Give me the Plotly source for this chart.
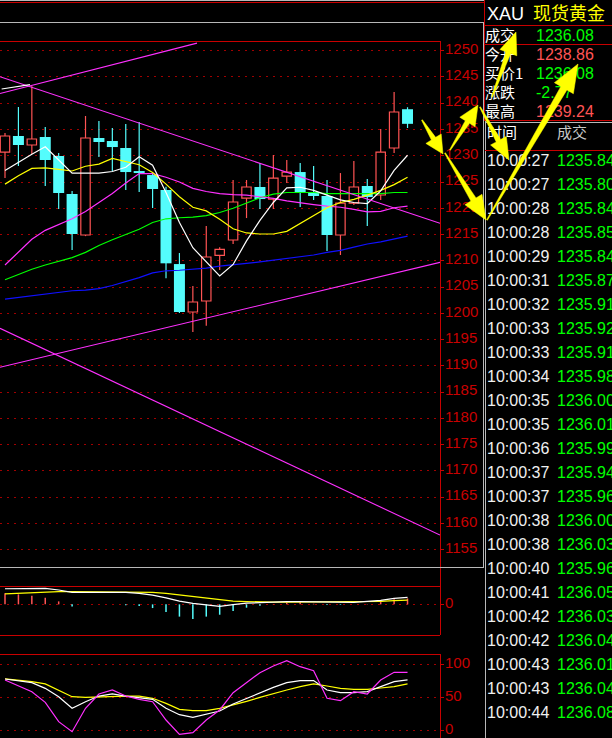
import math
import plotly.graph_objects as go

W, H = 612, 738

# ---------------- candle data (index 0..30) ----------------
candle_open = [1230.71, 1233.76, 1232.05, 1233.57, 1229.95, 1222.72, 1214.91, 1233.38, 1232.81, 1231.48,
               1227.09, 1226.33, 1223.48, 1209.38, 1200.25, 1202.35, 1211.04, 1213.96, 1221.95, 1224.05,
               1221.76, 1226.14, 1226.90, 1223.10, 1222.34, 1214.91, 1221.00, 1224.24, 1222.53, 1231.48, 1238.86]
candle_high = [1234.33, 1239.28, 1243.28, 1235.47, 1230.52, 1223.29, 1237.57, 1236.61, 1235.28, 1236.04,
               1236.42, 1226.90, 1224.10, 1211.48, 1205.20, 1216.62, 1212.57, 1225.39, 1225.39, 1228.62,
               1230.14, 1229.19, 1228.62, 1228.05, 1225.39, 1226.71, 1229.01, 1225.57, 1235.09, 1242.14, 1239.24]
candle_low = [1225.76, 1228.05, 1230.33, 1224.24, 1219.86, 1212.05, 1214.70, 1229.76, 1227.09, 1223.48,
              1223.10, 1220.05, 1206.67, 1200.06, 1196.44, 1197.64, 1208.24, 1213.20, 1218.14, 1219.86,
              1219.86, 1224.81, 1220.24, 1221.57, 1211.86, 1211.10, 1220.62, 1216.62, 1221.57, 1230.52, 1235.28]
candle_close = [1233.76, 1232.05, 1233.19, 1229.19, 1222.91, 1215.10, 1233.38, 1232.62, 1231.66, 1226.90,
                1226.71, 1223.67, 1209.52, 1200.25, 1202.16, 1210.72, 1212.19, 1221.20, 1224.05, 1221.76,
                1225.76, 1226.90, 1223.10, 1222.34, 1214.91, 1221.00, 1224.05, 1222.14, 1230.71, 1238.33, 1236.08]

# moving averages
ma5 = [1227.2, 1228.8, 1230.3, 1231.7, 1229.1, 1226.7, 1226.7, 1226.7, 1227.0, 1227.8, 1229.8, 1228.2, 1223.0,
       1217.3, 1212.5, 1209.9, 1207.1, 1209.3, 1213.8, 1217.7, 1221.1, 1223.9, 1224.0, 1223.4, 1222.5, 1221.6,
       1221.1, 1220.9, 1223.3, 1227.2, 1230.1]
ma10 = [1224.6, 1226.2, 1227.6, 1227.7, 1227.4, 1227.1, 1228.0, 1228.4, 1229.5, 1228.9, 1228.3, 1226.8, 1224.6,
        1222.2, 1220.2, 1219.5, 1217.9, 1216.1, 1215.3, 1215.1, 1215.1, 1215.6, 1217.1, 1218.7, 1220.1, 1221.1,
        1221.7, 1222.5, 1223.4, 1224.5, 1225.9]
ma20 = [1209.2, 1211.7, 1214.1, 1215.8, 1216.9, 1218.0, 1219.4, 1221.1, 1222.8, 1224.8, 1226.6, 1226.6, 1225.9,
        1225.0, 1223.8, 1223.2, 1222.8, 1222.6, 1222.5, 1222.2, 1221.9, 1221.4, 1221.0, 1220.7, 1220.4, 1220.2,
        1219.8, 1219.3, 1219.4, 1220.1, 1220.4]
ma30 = [1206.4, 1207.4, 1208.4, 1209.2, 1209.9, 1210.6, 1211.6, 1212.9, 1214.0, 1215.0, 1216.0, 1217.3, 1218.0,
        1218.2, 1218.3, 1218.6, 1219.2, 1220.0, 1221.0, 1222.0, 1222.7, 1223.0, 1223.0, 1223.0, 1222.8, 1222.8,
        1222.7, 1222.7, 1222.8, 1223.0, 1223.0]
ma60 = [1202.7, 1203.0, 1203.4, 1203.7, 1204.0, 1204.3, 1204.4, 1204.7, 1205.3, 1206.0, 1206.8, 1207.7, 1208.1,
        1208.2, 1208.4, 1208.6, 1209.0, 1209.2, 1209.5, 1209.8, 1210.1, 1210.4, 1210.8, 1211.1, 1211.6, 1212.0,
        1212.6, 1213.2, 1213.6, 1214.1, 1214.7]

# drawn trend lines (start index, start price, end index, end price)
trend_i0 = [-0.373, -0.373, -0.373, -0.373]
trend_p0 = [1241.85, 1245.05, 1189.72, 1197.14]
trend_i1 = [14.31, 32.42, 32.42, 32.42]
trend_p1 = [1251.45, 1217.14, 1209.71, 1157.79]
white_seg_i = [-0.25, 1.86]
white_seg_p = [1242.71, 1243.53]

# MACD
macd_dif = [2.55, 2.6, 2.6, 2.6, 2.35, 1.96, 1.96, 1.96, 1.96, 1.96, 1.8, 1.5, 1.06, 0.54, 0.16, -0.14, -0.33,
            -0.05, 0.22, 0.27, 0.38, 0.44, 0.44, 0.44, 0.44, 0.33, 0.33, 0.49, 0.65, 0.98, 1.14]
macd_dea = [1.71, 1.8, 2.01, 2.07, 2.07, 2.07, 2.07, 2.07, 2.07, 2.07, 2.04, 1.96, 1.8, 1.55, 1.31, 1.09, 0.82,
            0.54, 0.46, 0.38, 0.38, 0.38, 0.38, 0.38, 0.38, 0.38, 0.38, 0.38, 0.49, 0.6, 0.71]
macd_hist = [1.8, 1.63, 1.41, 1.09, 0.49, -0.33, 0, 0, 0, -0.16, -0.27, -0.6, -1.25, -2.0, -2.4, -2.0, -1.69,
             -1.09, -0.54, -0.22, 0.05, 0.3, 0.38, 0.1, -0.1, -0.1, 0, 0.05, 0.44, 0.82, 0.98]

# KDJ
kdj_k = [77.9, 74.9, 72.4, 63.8, 51.2, 33.7, 43.7, 52.2, 55.3, 52.2, 50.2, 47.2, 33.7, 24.1, 20.1, 25.1, 29.6,
         40.2, 48.8, 57.3, 65.3, 72.4, 75.4, 75.4, 61.3, 57.3, 57.3, 58.8, 66.3, 73.9, 76.4]
kdj_d = [77.9, 76.4, 73.9, 70.4, 60.3, 51.2, 50.2, 51.2, 52.2, 52.2, 52.2, 48.8, 41.2, 32.2, 30.2, 30.2, 33.7,
         38.7, 44.2, 50.2, 56.3, 61.3, 66.3, 70.4, 67.3, 63.8, 62.3, 62.3, 64.3, 66.3, 70.4]
kdj_j = [76.4, 67.3, 58.8, 42.7, 13.6, -1.5, 33.7, 55.3, 61.3, 52.2, 47.2, 43.7, 16.1, -5.5, -3.0, 16.1, 31.2,
         57.3, 72.4, 87.4, 97.4, 105.5, 96.4, 90.4, 48.8, 45.2, 58.8, 55.3, 76.4, 87.9, 87.9]

price_ticks = list(range(1155, 1251, 5))

# quote panel
symbol = "XAU"
symbol_name = "现货黄金"
quote_labels = ["成交", "今开", "买价1", "涨跌", "最高"]
quote_values = ["1236.08", "1238.86", "1236.08", "-2.77", "1239.24"]
quote_up = [False, True, False, False, True]
trade_times = ["10:00:27", "10:00:27", "10:00:28", "10:00:28", "10:00:29", "10:00:31", "10:00:32", "10:00:33",
               "10:00:33", "10:00:34", "10:00:35", "10:00:35", "10:00:36", "10:00:37", "10:00:37", "10:00:38",
               "10:00:38", "10:00:40", "10:00:41", "10:00:42", "10:00:42", "10:00:43", "10:00:43", "10:00:44"]
trade_prices = ["1235.84", "1235.80", "1235.84", "1235.85", "1235.84", "1235.87", "1235.91", "1235.92",
                "1235.91", "1235.98", "1236.00", "1236.01", "1235.99", "1235.94", "1235.96", "1236.00",
                "1236.03", "1235.96", "1236.05", "1236.03", "1236.04", "1236.01", "1236.04", "1236.08"]

# ---------------- styles ----------------
RED = "#ff5454"
CYAN = "#54fcfc"
AXRED = "#c80000"
GRID = "#a00000"
BORDER = "#c80000"
GRAY = "#b8b8b8"
MAGENTA = "#ff30ff"
NUMFONT = "Liberation Sans, Arial, sans-serif"
CJKFONT = "Noto Sans CJK SC, sans-serif"
XR = [-0.3727, 32.42]

n = len(candle_open)
idx = list(range(n))
up = [c >= o for o, c in zip(candle_open, candle_close)]

fig = go.Figure()

# ---------- candles ----------
for flag, fill, lc, lw, wdt in ((True, "black", RED, 1.2, 0.70), (False, CYAN, CYAN, 0, 0.82)):
    xs = [i for i in idx if up[i] == flag]
    base = [min(candle_open[i], candle_close[i]) for i in xs]
    hgt = [max(abs(candle_close[i] - candle_open[i]), 0.2) for i in xs]
    wx, wy = [], []
    for i in xs:
        top = max(candle_open[i], candle_close[i])
        bot = min(candle_open[i], candle_close[i])
        if flag:
            wx += [i, i, None, i, i, None]
            wy += [candle_high[i], top, None, bot, candle_low[i], None]
        else:
            wx += [i, i, None]
            wy += [candle_high[i], candle_low[i], None]
    fig.add_trace(go.Scatter(x=wx, y=wy, mode="lines", line=dict(color=lc if flag else CYAN, width=1.2),
                             xaxis="x", yaxis="y", hoverinfo="skip"))
    fig.add_trace(go.Bar(x=xs, y=hgt, base=base, width=wdt,
                         marker=dict(color=fill, line=dict(color=lc, width=lw)),
                         xaxis="x", yaxis="y", hoverinfo="skip"))

# ---------- moving averages ----------
for vals, col in ((ma60, "#1010ff"), (ma30, "#00ff00"), (ma20, MAGENTA), (ma10, "#ffff00"), (ma5, "#ffffff")):
    fig.add_trace(go.Scatter(x=idx, y=vals, mode="lines", line=dict(color=col, width=1.2),
                             xaxis="x", yaxis="y", hoverinfo="skip"))

# ---------- trend lines ----------
for a0, b0, a1, b1 in zip(trend_i0, trend_p0, trend_i1, trend_p1):
    fig.add_trace(go.Scatter(x=[a0, a1], y=[b0, b1], mode="lines", line=dict(color=MAGENTA, width=1.1),
                             xaxis="x", yaxis="y", hoverinfo="skip"))
fig.add_trace(go.Scatter(x=white_seg_i, y=white_seg_p, mode="lines", line=dict(color="#ffffff", width=1.2),
                         xaxis="x", yaxis="y", hoverinfo="skip"))

# ---------- MACD ----------
for positive, col in ((True, RED), (False, CYAN)):
    hx, hy = [], []
    for i, v in enumerate(macd_hist):
        if v != 0 and (v > 0) == positive:
            hx += [i, i, None]
            hy += [0, v, None]
    fig.add_trace(go.Scatter(x=hx, y=hy, mode="lines", line=dict(color=col, width=1.5),
                             xaxis="x2", yaxis="y2", hoverinfo="skip"))
fig.add_trace(go.Scatter(x=idx, y=macd_dea, mode="lines", line=dict(color="#ffff00", width=1.2),
                         xaxis="x2", yaxis="y2", hoverinfo="skip"))
fig.add_trace(go.Scatter(x=idx, y=macd_dif, mode="lines", line=dict(color="#ffffff", width=1.2),
                         xaxis="x2", yaxis="y2", hoverinfo="skip"))

# ---------- KDJ ----------
for vals, col in ((kdj_d, "#ffff00"), (kdj_k, "#ffffff"), (kdj_j, MAGENTA)):
    fig.add_trace(go.Scatter(x=idx, y=vals, mode="lines", line=dict(color=col, width=1.2),
                             xaxis="x3", yaxis="y3", hoverinfo="skip"))


# ---------- quote panel text (pixel overlay) ----------
def txt(xs, ys, texts, color, size, family):
    fig.add_trace(go.Scatter(x=xs, y=ys, text=texts, mode="text", textposition="middle right",
                             textfont=dict(color=color, size=size, family=family),
                             xaxis="x4", yaxis="y4", hoverinfo="skip"))


txt([487], [15], [symbol], "#ffffff", 18, NUMFONT)
txt([533], [15], [symbol_name], "#ffff00", 18, CJKFONT)
qy = [37 + 19 * k for k in range(len(quote_labels))]
txt([485] * len(quote_labels), qy, quote_labels, "#ffffff", 15, CJKFONT)
for yy, v, u in zip(qy, quote_values, quote_up):
    txt([536], [yy], [v], RED if u else "#00ff00", 16, NUMFONT)
txt([487], [134], ["时间"], "#ffffff", 15, CJKFONT)
txt([557], [134], ["成交"], "#c8c8c8", 15, CJKFONT)
ty = [162 + 24 * k for k in range(len(trade_times))]
txt([487] * len(trade_times), ty, trade_times, "#f0f0f0", 16, NUMFONT)
txt([557] * len(trade_prices), ty, trade_prices, "#00ff00", 16, NUMFONT)


# ---------- yellow hand-drawn arrows ----------
def arrow(x0, y0, x1, y1, w0=1.0, w1=7.0, hw=20.0, hl=22.0):
    dx, dy = x1 - x0, y1 - y0
    L = math.hypot(dx, dy)
    ux, uy = dx / L, dy / L
    nx, ny = -uy, ux
    bx, by = x1 - ux * hl, y1 - uy * hl
    pts = [(x0 + nx * w0 / 2, y0 + ny * w0 / 2), (bx + nx * w1 / 2, by + ny * w1 / 2),
           (bx + nx * hw / 2, by + ny * hw / 2), (x1, y1), (bx - nx * hw / 2, by - ny * hw / 2),
           (bx - nx * w1 / 2, by - ny * w1 / 2), (x0 - nx * w0 / 2, y0 - ny * w0 / 2)]
    pts.append(pts[0])
    fig.add_trace(go.Scatter(x=[p[0] for p in pts], y=[p[1] for p in pts], mode="lines", fill="toself",
                             fillcolor="#ffff00", line=dict(color="#ffff00", width=0.5),
                             xaxis="x4", yaxis="y4", hoverinfo="skip"))


arrow(422, 120, 443, 154, hw=18, hl=18, w1=5)
arrow(450, 150, 478, 105, hw=18, hl=20, w1=5)
arrow(445, 153, 486, 220, hw=20, hl=24, w1=6)
arrow(480, 107, 509, 160, hw=18, hl=22, w1=5)
arrow(487, 220, 578, 64, hw=22, hl=28, w1=7)
arrow(492, 97, 516, 32, hw=18, hl=22, w1=5)


# ---------- border shapes ----------
def px(x):
    return x / W


def py(y):
    return 1 - y / H


shapes = []


def hline(y, x0, x1, color, width=1):
    shapes.append(dict(type="line", xref="paper", yref="paper", x0=px(x0), x1=px(x1), y0=py(y), y1=py(y),
                       line=dict(color=color, width=width), layer="below"))


def vline(x, y0, y1, color, width=1):
    shapes.append(dict(type="line", xref="paper", yref="paper", x0=px(x), x1=px(x), y0=py(y0), y1=py(y1),
                       line=dict(color=color, width=width), layer="below"))


hline(0.5, 0, 484, GRAY)
hline(2.5, 0, 484, BORDER)
hline(22.5, 0, 484, GRAY)
hline(41.5, 0, 440, BORDER)
vline(440.5, 41, 635, BORDER)
hline(567.5, 0, 484, GRAY)
vline(483.5, 22, 567, GRAY)
hline(586.5, 0, 440, BORDER)
hline(635.5, 0, 440, BORDER)
hline(654.5, 0, 440, BORDER)
vline(440.5, 654, 738, BORDER)
vline(484.5, 0, 121, BORDER)
vline(485.5, 121, 738, GRAY)
hline(25.5, 485, 612, BORDER)
hline(44.5, 485, 612, BORDER)
hline(120.5, 485, 612, BORDER)
hline(122.5, 485, 612, GRAY)
hline(150.5, 485, 612, BORDER)

# ---------- layout ----------
xdom = [0, 440 / W]
common_y = dict(side="right", showgrid=True, gridcolor=GRID, gridwidth=1, griddash="2px,5px",
                zeroline=False, showline=False, ticks="outside", ticklen=3, tickcolor=AXRED,
                tickfont=dict(color=AXRED, size=15, family="Liberation Sans Narrow, Arial Narrow, Liberation Sans, Arial"),
                ticklabelshift=-2, ticklabelstandoff=-2, fixedrange=True)
hidden_x = dict(range=XR, visible=False, fixedrange=True, domain=xdom)

fig.update_layout(
    width=W, height=H,
    margin=dict(l=0, r=0, t=0, b=0),
    paper_bgcolor="black",
    plot_bgcolor="rgba(0,0,0,0)",
    showlegend=False,
    barmode="overlay",
    hovermode=False,
    shapes=shapes,
    xaxis=dict(hidden_x, anchor="y"),
    yaxis=dict(common_y, anchor="x", domain=[1 - 567 / H, 1 - 41 / H], range=[1151.70, 1251.85],
               tickvals=price_ticks, ticktext=[str(t) for t in price_ticks]),
    xaxis2=dict(hidden_x, anchor="y2"),
    yaxis2=dict(common_y, anchor="x2", domain=[1 - 635 / H, 1 - 586 / H], range=[-5, 3],
                tickvals=[0], ticktext=["0"]),
    xaxis3=dict(hidden_x, anchor="y3"),
    yaxis3=dict(common_y, anchor="x3", domain=[0, 1 - 654 / H], range=[-10.99, 115.51],
                tickvals=[0, 50, 100], ticktext=["0", "50", "100"]),
    xaxis4=dict(range=[0, W], visible=False, fixedrange=True, domain=[0, 1], anchor="y4"),
    yaxis4=dict(range=[H, 0], visible=False, fixedrange=True, domain=[0, 1], anchor="x4"),
)

fig.write_html("out.html", config={"displayModeBar": False},
               post_script="document.body.style.margin='0px';document.body.style.background='black';")
